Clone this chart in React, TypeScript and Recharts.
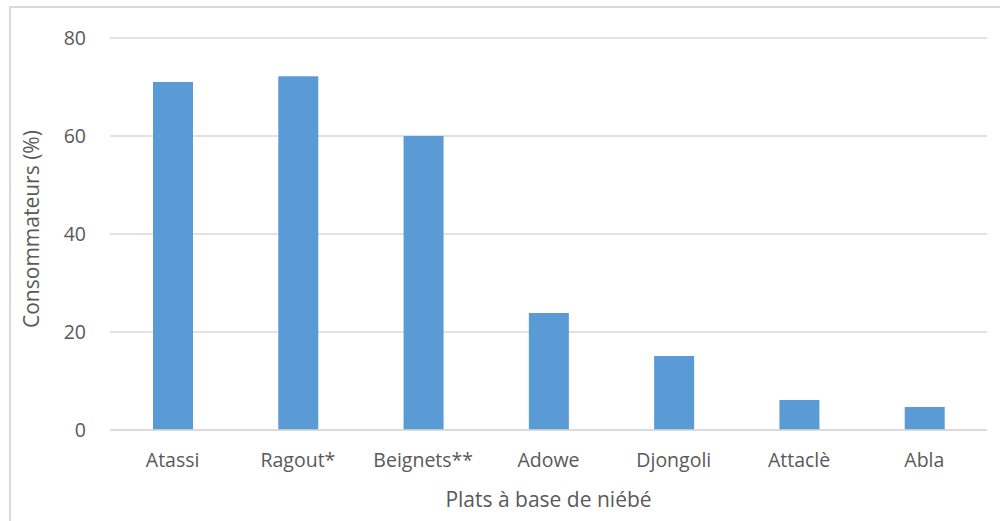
import React from 'react';
import { BarChart, Bar, XAxis, YAxis, CartesianGrid } from 'recharts';

const PLATS = ['Atassi', 'Ragout*', 'Beignets**', 'Adowe', 'Djongoli', 'Attaclè', 'Abla'];
const CONSOMMATEURS = [71, 72.2, 60, 23.9, 15.1, 6.1, 4.7];
const Y_TICKS = [0, 20, 40, 60, 80];

const data = PLATS.map((plat, i) => ({ plat, value: CONSOMMATEURS[i] }));

const textColor = '#595959';
const gridColor = '#d9d9d9';
const font = '"Open Sans", sans-serif';

const App: React.FC = () => {
  return (
    <div style={{ position: 'absolute', left: 0, top: 0, width: 1000, height: 521, overflow: 'hidden', background: '#fff' }}>
      {/* chart frame, only top/left visible in the crop */}
      <div style={{ position: 'absolute', left: 9, top: 6, width: 1010, height: 540, border: `2px solid ${gridColor}` }} />
      <div style={{ position: 'absolute', left: 0, top: 0 }}>
        <BarChart
          width={1000}
          height={521}
          data={data}
          margin={{ top: 38, right: 13, bottom: 50, left: 10 }}
          style={{ fontFamily: font }}
        >
          <CartesianGrid vertical={false} stroke={gridColor} strokeWidth={1.5} />
          <XAxis
            dataKey="plat"
            height={41}
            axisLine={{ stroke: gridColor, strokeWidth: 1.5 }}
            tickLine={false}
            tickMargin={17}
            tick={{ fill: textColor, fontSize: 19.5 }}
            interval={0}
            label={{ value: 'Plats à base de niébé', position: 'insideBottom', offset: -36, fill: textColor, fontSize: 21 }}
          />
          <YAxis
            width={100}
            domain={[0, 80]}
            ticks={Y_TICKS}
            axisLine={false}
            tickLine={false}
            tickMargin={18}
            tick={{ fill: textColor, fontSize: 19.5 }}
            label={{ value: 'Consommateurs (%)', angle: -90, position: 'insideLeft', offset: 22, dy: 94, fill: textColor, fontSize: 21 }}
          />
          <Bar dataKey="value" fill="#5b9bd5" barSize={40} isAnimationActive={false} />
        </BarChart>
      </div>
    </div>
  );
};

export default App;
